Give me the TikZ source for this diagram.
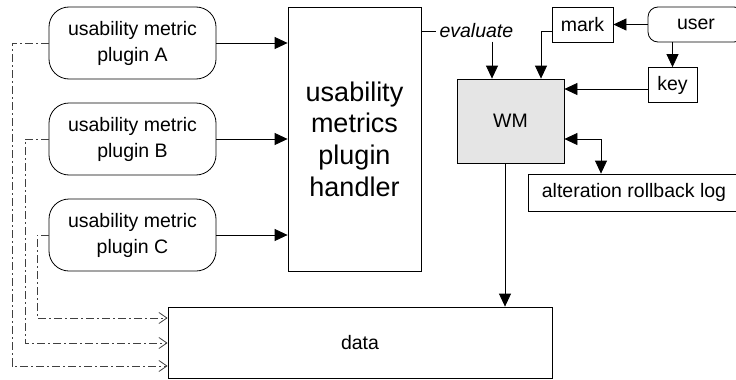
\documentclass[tikz,border=0pt]{standalone}
\usepackage{fontspec}
\setmainfont{Liberation Sans}
\usetikzlibrary{arrows.meta}

\tikzset{
  box/.style={draw, line width=0.8pt, inner sep=0pt},
  plugin/.style={box, rounded corners=20pt, minimum width=167pt, minimum height=72pt, align=center},
  arr/.style={-{Triangle[length=13pt,width=12pt]}, line width=0.8pt},
  darr/.style={{Triangle[length=13pt,width=12pt]}-{Triangle[length=13pt,width=12pt]}, line width=0.8pt},
  dd/.style={-{Straight Barb[length=8pt,width=11pt]}, black!75, line width=0.8pt, dash pattern={on 8pt off 3pt on 2pt off 3pt}}
}

\begin{document}
\begin{tikzpicture}[x=1pt,y=1pt,yscale=-1,font=\fontsize{19.5}{26}\selectfont]
\useasboundingbox (0,0) rectangle (736,380);

%Shape: plugins and handler
\node[plugin] (pa) at (132.5,43) {usability metric\\plugin A};
\node[plugin] (pb) at (132.5,139) {usability metric\\plugin B};
\node[plugin] (pc) at (132.5,235) {usability metric\\plugin C};
\node[box, minimum width=133pt, minimum height=264pt, align=center, font=\fontsize{27}{31.7}\selectfont] (handler) at (354.5,139) {usability\\metrics\\plugin\\handler};

%Shape: WM and its inputs
\node[font=\fontsize{19.5}{26}\selectfont\itshape, anchor=west] (eval) at (436,31) {evaluate};
\node[box, fill=gray!20, minimum width=107pt, minimum height=84pt] (wm) at (510.5,121) {WM};
\node[box, minimum width=61pt, minimum height=35pt] (mark) at (582.5,24.5) {mark};
\node[box, rounded corners=10pt, minimum width=96pt, minimum height=35pt] (user) at (696,24.5) {user\hspace{10pt}};
\node[box, minimum width=49pt, minimum height=35pt] (key) at (672.5,85) {key};
\node[box, minimum width=212pt, minimum height=37pt] (log) at (634,192.5) {alteration rollback log};

%Shape: data
\node[box, minimum width=384pt, minimum height=71pt] (data) at (360,342.5) {data};

%Straight Lines
\foreach \p in {pa,pb,pc}
  \draw[arr] (\p.east) -- (\p.east -| handler.west);
\draw[line width=0.8pt] (handler.east |- eval.west) -- (eval.west);
\draw[arr] (492,0 |- eval.south) -- (492,0 |- wm.north);
\draw[arr] (mark.west |- 0,31) -| (541,0 |- wm.north);
\draw[arr] (user.west) -- (mark.east);
\draw[arr] (key.north |- user.south) -- (key.north);
\draw[arr] (key.west |- 0,89) -- (wm.east |- 0,89);
\draw[darr] (wm.east |- 0,139) -| (601,0 |- log.north);
\draw[arr] (505,0 |- wm.south) -- (505,0 |- data.north);

%Dash-dot Lines
\draw[dd] (pa.west) -| (12,366) -- (data.west |- 0,366);
\draw[dd] (pb.west) -| (25,343) -- (data.west |- 0,343);
\draw[dd] (pc.west) -| (37,318) -- (data.west |- 0,318);

\end{tikzpicture}
\end{document}
